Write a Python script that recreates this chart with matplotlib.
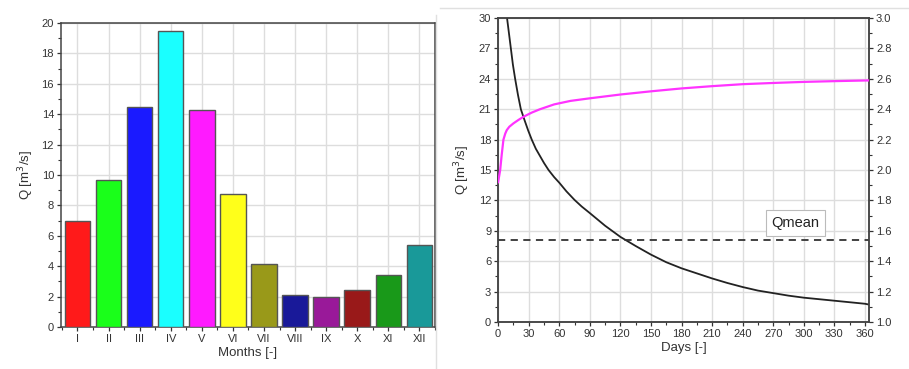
import matplotlib
matplotlib.use("Agg")
import matplotlib.pyplot as plt
import matplotlib.lines as lines
from matplotlib.ticker import MultipleLocator, FormatStrFormatter

plt.rcParams['font.family'] = ['Liberation Sans', 'DejaVu Sans']

# monthly mean discharge
months = ['I', 'II', 'III', 'IV', 'V', 'VI', 'VII', 'VIII', 'IX', 'X', 'XI', 'XII']
q_month = [7.0, 9.7, 14.5, 19.5, 14.3, 8.75, 4.15, 2.1, 2.0, 2.45, 3.4, 5.4]
bar_colors = ['#ff1a1a', '#1aff1a', '#1a1aff', '#1affff', '#ff1aff', '#ffff1a',
              '#999919', '#191999', '#991999', '#991919', '#199919', '#199999']

# flow duration curve
fdc_days = [8, 10, 12.5, 14.5, 16.7, 19.5, 22.3, 26, 29.5, 33, 37, 41, 45, 49.5, 55, 60,
            67, 75, 82, 90, 105, 120, 135, 150, 165, 180, 195, 210, 225, 240, 255, 270,
            285, 300, 315, 330, 345, 360, 365]
fdc_q = [30.6, 29.0, 27.0, 25.4, 24.0, 22.4, 21.0, 19.9, 18.9, 18.0, 17.1, 16.4, 15.7,
         15.0, 14.3, 13.75, 12.9, 12.05, 11.4, 10.75, 9.5, 8.4, 7.5, 6.65, 5.9, 5.3, 4.8,
         4.3, 3.85, 3.45, 3.1, 2.85, 2.6, 2.4, 2.25, 2.1, 1.95, 1.8, 1.7]
q_mean = 8.1

# second curve on right axis
r_days = [0, 1, 2, 3.5, 5.2, 7, 8.5, 11, 15, 20, 25, 33, 41, 55, 71, 90, 108, 120,
          150, 180, 210, 240, 270, 300, 330, 365]
r_val = [1.92, 1.96, 2.0, 2.1, 2.2, 2.24, 2.263, 2.285, 2.307, 2.33, 2.351, 2.378,
         2.40, 2.432, 2.455, 2.472, 2.487, 2.497, 2.518, 2.537, 2.552, 2.565, 2.573,
         2.58, 2.585, 2.59]

fs = 8
spine_c = '#444444'
grid_c = '#dddddd'

fig = plt.figure()
fig.set_size_inches(9.09, 3.69)

# ---- left: bars
ax1 = fig.add_axes([0.0671, 0.1138, 0.4114, 0.824])
x = list(range(1, 13))
ax1.bar(x, q_month, width=0.82, color=bar_colors, edgecolor='#555555', linewidth=1.0, zorder=3)
ax1.set_xlim(0.47, 12.5)
ax1.set_ylim(0, 20)
ax1.set_xticks(x)
ax1.set_xticklabels(months)
ax1.xaxis.set_minor_locator(MultipleLocator(0.5))
ax1.yaxis.set_major_locator(MultipleLocator(2))
ax1.yaxis.set_minor_locator(MultipleLocator(1))
ax1.grid(True, color=grid_c, linewidth=1.0, zorder=0)
ax1.set_xlabel('Months [-]', fontsize=9.5, labelpad=2, color='#333333')
ax1.set_ylabel('Q [m$^3$/s]', fontsize=9.5, labelpad=4, color='#333333')

# ---- right: duration curve
ax2 = fig.add_axes([0.548, 0.1274, 0.408, 0.8236])
ax2.plot(fdc_days, fdc_q, color='#222222', linewidth=1.3, zorder=4)
ax2.axhline(q_mean, color='#333333', linestyle=(0, (4, 3)), linewidth=1.3, zorder=4)
ax2.text(292, 9.76, 'Qmean', fontsize=10.5, ha='center', va='center', color='#222222', zorder=5,
         bbox=dict(boxstyle='square,pad=0.4', facecolor='white', edgecolor='#bbbbbb', linewidth=0.8))
ax2.set_xlim(0, 364)
ax2.set_ylim(0, 30)
ax2.xaxis.set_major_locator(MultipleLocator(30))
ax2.xaxis.set_minor_locator(MultipleLocator(15))
ax2.yaxis.set_major_locator(MultipleLocator(3))
ax2.yaxis.set_minor_locator(MultipleLocator(1.5))
ax2.grid(True, color=grid_c, linewidth=1.0, zorder=0)
ax2.set_xlabel('Days [-]', fontsize=9.5, labelpad=2, color='#333333')
ax2.set_ylabel('Q [m$^3$/s]', fontsize=9.5, labelpad=5, color='#333333')

ax3 = ax2.twinx()
ax3.plot(r_days, r_val, color='#ff33ff', linewidth=1.6, zorder=4)
ax3.set_ylim(1.0, 3.0)
ax3.yaxis.set_major_locator(MultipleLocator(0.2))
ax3.yaxis.set_minor_locator(MultipleLocator(0.1))
ax3.yaxis.set_major_formatter(FormatStrFormatter('%.1f'))

for ax in (ax1, ax2, ax3):
    for s in ax.spines.values():
        s.set_color(spine_c)
        s.set_linewidth(1.1)
    ax.tick_params(labelsize=fs, colors='#333333', length=3, width=0.9, pad=2)
    ax.tick_params(which='minor', length=2, width=0.8, colors='#333333')
ax1.tick_params(top=False, right=False)
ax2.tick_params(top=False, right=False)

# panel separators
fig.add_artist(lines.Line2D([436 / 909, 436 / 909], [0.0, 1 - 15 / 369], color='#e0e0e0', linewidth=1))
fig.add_artist(lines.Line2D([440 / 909, 1.0], [1 - 8 / 369, 1 - 8 / 369], color='#e0e0e0', linewidth=1))

plt.savefig('out.png', dpi=100)
